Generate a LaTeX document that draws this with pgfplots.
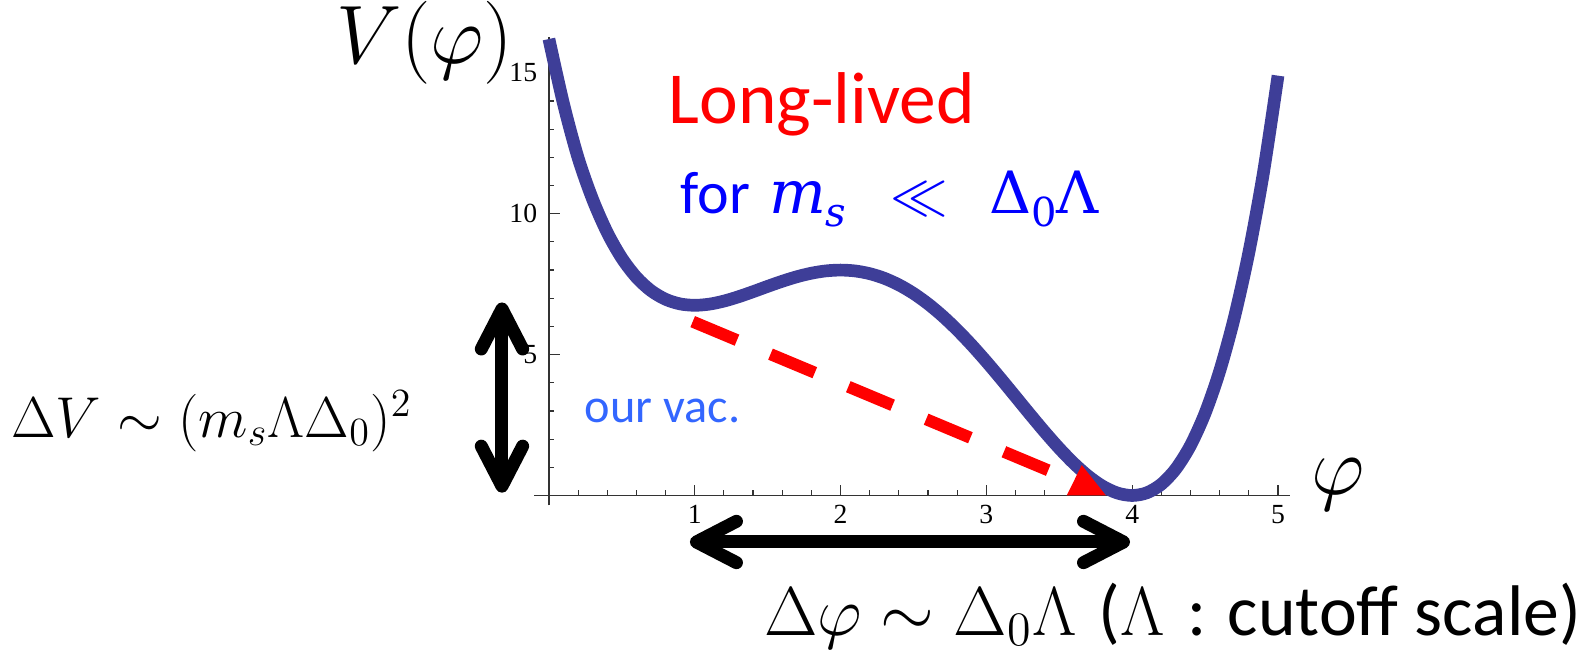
\documentclass[border=0pt]{standalone}
\usepackage{fontspec}
\usepackage{pgfplots}
\pgfplotsset{compat=1.18}
\usetikzlibrary{arrows.meta}
\newfontfamily\calibri{Carlito}
\newfontfamily\tickfont{Liberation Serif}
\newfontfamily\cambria{DejaVu Serif}
\definecolor{mma}{RGB}{62,62,152}
\definecolor{vacblue}{RGB}{51,102,255}
\begin{document}
\begin{tikzpicture}[x=1pt,y=1pt]
\useasboundingbox (0,0) rectangle (475.5,199.2);
\begin{axis}[
  at={(160.3pt,47.6pt)}, anchor=south west,
  scale only axis, width=226.6pt, height=140.4pt,
  xmin=-0.1, xmax=5.08, ymin=-0.35, ymax=16.26,
  axis lines=middle,
  axis line style={-, line width=0.4pt, color=black!80},
  xtick={1,2,3,4,5}, ytick={5,10,15},
  minor xtick={0.2,0.4,0.6,0.8,1.2,1.4,1.6,1.8,2.2,2.4,2.6,2.8,3.2,3.4,3.6,3.8,4.2,4.4,4.6,4.8},
  minor ytick={1,2,3,4,6,7,8,9,11,12,13,14,16},
  tick align=inside,
  major tick length=3.2pt, minor tick length=1.6pt,
  every tick/.style={line width=0.35pt, black!80},
  /pgf/number format/assume math mode=true,
  tick label style={font=\fontsize{8.3}{9}\selectfont\tickfont},
  xticklabel style={yshift=0.5pt},
  clip=false, no markers,
]
\addplot[mma, line width=3.8pt, smooth] coordinates {
(0.0,16.200) (0.1,13.900) (0.2,11.985) (0.3,10.507) (0.4,9.331) (0.5,8.422)
(0.6,7.745) (0.7,7.269) (0.8,6.963) (0.9,6.799) (1.0,6.750) (1.1,6.791)
(1.2,6.899) (1.3,7.053) (1.4,7.233) (1.5,7.422) (1.6,7.603) (1.7,7.763)
(1.8,7.889) (1.9,7.971) (2.0,8.000) (2.1,7.969) (2.2,7.873) (2.3,7.709)
(2.4,7.475) (2.5,7.172) (2.6,6.801) (2.7,6.367) (2.8,5.875) (2.9,5.333)
(3.0,4.750) (3.1,4.137) (3.2,3.507) (3.3,2.875) (3.4,2.257) (3.5,1.672)
(3.6,1.139) (3.7,0.681) (3.8,0.321) (3.9,0.085) (4.0,0.000) (4.1,0.095)
(4.2,0.401) (4.3,0.951) (4.4,1.779) (4.5,2.922) (4.6,4.417) (4.7,6.305)
(4.8,8.627) (4.9,11.460) (5.0,14.900)
};
\addplot[red, line width=3.6pt, dash pattern=on 14.4pt off 10.9pt] coordinates {(0.986,6.17) (3.50,0.73)};
\addplot[fill=red, draw=none] coordinates {(3.551,0) (3.654,1.08) (3.82,0) (3.551,0)};
\addplot[black, line width=3.9pt, {Straight Barb[length=12pt,width=12.4pt,round]}-{Straight Barb[length=12pt,width=12.4pt,round]}] coordinates {(-0.322,0.1) (-0.322,6.85)};
\addplot[black, line width=3.9pt, {Straight Barb[length=12pt,width=12.4pt,round]}-{Straight Barb[length=12pt,width=12.4pt,round]}] coordinates {(0.967,-1.65) (3.985,-1.65)};
\end{axis}
\node[anchor=base, inner sep=0pt] at (127.4,180.3) {\fontsize{23}{28}\selectfont $V(\varphi)$};
\node[anchor=base, inner sep=0pt] at (401.5,51) {\fontsize{24.5}{29}\selectfont $\varphi$};
\node[anchor=base west, inner sep=0pt] at (3.2,68.1) {\fontsize{18.8}{23}\selectfont $\Delta V\sim(m_s\Lambda\Delta_0)^2$};
\node[anchor=base west, inner sep=0pt] at (229,8.7) {\fontsize{22}{27}\selectfont $\Delta\varphi\sim\Delta_0\Lambda$ {\fontsize{21.5}{25}\selectfont\calibri (}$\Lambda$ {\fontsize{21.5}{25}\selectfont\calibri : cutoff scale)}};
\node[anchor=base west, inner sep=0pt, text=red] at (200.4,162.2) {\fontsize{22}{26}\selectfont\calibri Long-lived};
\node[anchor=base west, inner sep=0pt, text=blue] at (204,135.2) {\fontsize{18}{22}\selectfont\calibri for};
\node[anchor=base west, inner sep=0pt, text=blue] at (230.5,135.2) {\fontsize{18}{22}\selectfont\cambria\itshape m\raisebox{-0.22em}{\fontsize{12}{14}\selectfont s}};
\node[anchor=base west, inner sep=0pt, text=blue] at (267.0,135.2) {\fontsize{17}{20}\selectfont $\ll$};
\node[anchor=base west, inner sep=0pt, text=blue] at (296.5,135.2) {\fontsize{17.5}{21}\selectfont\cambria Δ\raisebox{-0.22em}{\fontsize{12}{14}\selectfont 0}Λ};
\node[anchor=base west, inner sep=0pt, text=vacblue] at (175.2,72.4) {\fontsize{14.5}{18}\selectfont\calibri our vac.};
\end{tikzpicture}
\end{document}
